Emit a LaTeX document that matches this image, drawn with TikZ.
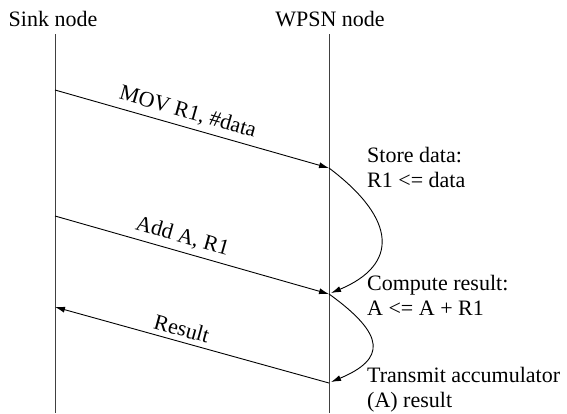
\documentclass[tikz,border=0pt]{standalone}
\usepackage{fontspec}
\setmainfont{Liberation Serif}
\usetikzlibrary{arrows.meta}
\begin{document}
\begin{tikzpicture}[x=1pt,y=-1pt,
  lbl/.style={font=\fontsize{22}{25}\selectfont, inner sep=0pt},
  life/.style={draw=black!75, line width=1pt},
  msg/.style={draw=black, line width=0.9pt, -{Latex[length=10pt,width=6pt]}},
  note/.style={lbl, align=left, anchor=base west}]
\useasboundingbox (0,0) rectangle (567,413);
% headers
\node[lbl, anchor=base] (sink) at (53,26) {Sink node};
\node[lbl, anchor=base] (wpsn) at (330,26) {WPSN node};
% lifeline coordinates
\coordinate (st) at (55,34);  \coordinate (sb) at (55,413);
\coordinate (wt) at (329,34); \coordinate (wb) at (329,413);
\draw[life] (st) -- (sb);
\draw[life] (wt) -- (wb);
% message end points
\coordinate (s1) at (55,90);  \coordinate (w1) at (329,168);
\coordinate (s2) at (55,216); \coordinate (w2) at (329,294);
\coordinate (s3) at (55,307); \coordinate (w3) at (329,383);
\coordinate (w2b) at (331,293); \coordinate (w3b) at (331,382);
\draw[msg] (s1) -- node[lbl, above=5pt, sloped, pos=0.47] (m1) {MOV R1, \#data} (w1);
\draw[msg] (s2) -- node[lbl, above=5pt, sloped, pos=0.45] (m2) {Add A, R1} (w2);
\draw[msg, {Latex[length=10pt,width=6pt]}-] (s3) -- node[lbl, above=5pt, sloped, pos=0.45] (m3) {Result} (w3);
% internal processing curves
\draw[msg] (w1) .. controls (398,220) and (398,265) .. (w2b);
\draw[msg] (w2) .. controls (386,335) and (386,359) .. (w3b);
% notes (base anchor = baseline of last line)
\node[note] (n1) at (367,187) {Store data:\\R1 <= data};
\node[note] (n2) at (367,315) {Compute result:\\A <= A + R1};
\node[note] (n3) at (367,407) {Transmit accumulator\\(A) result};
\end{tikzpicture}
\end{document}
